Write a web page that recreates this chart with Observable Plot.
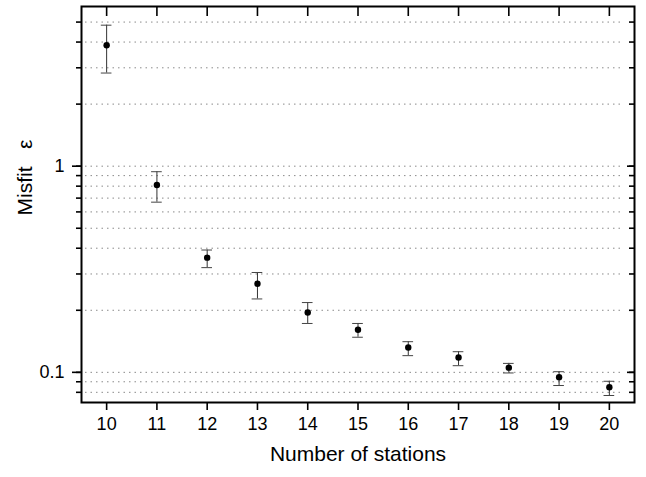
<!DOCTYPE html>
<html>
<head>
<meta charset="utf-8">
<script src="https://cdn.jsdelivr.net/npm/d3@7"></script>
<script src="https://cdn.jsdelivr.net/npm/@observablehq/plot@0.6"></script>
<style>
  html, body { margin: 0; padding: 0; background: #fff; }
  #chart svg { display: block; }
</style>
</head>
<body>
<div id="chart"></div>
<script>
const stations = [10, 11, 12, 13, 14, 15, 16, 17, 18, 19, 20];
const misfit   = [3.86, 0.81, 0.36, 0.269, 0.195, 0.161, 0.132, 0.118, 0.1054, 0.0946, 0.0846];
const errHigh  = [4.83, 0.94, 0.392, 0.305, 0.218, 0.1726, 0.1408, 0.1259, 0.1105, 0.1007, 0.0905];
const errLow   = [2.83, 0.669, 0.322, 0.227, 0.1726, 0.148, 0.1205, 0.1077, 0.0993, 0.0863, 0.0772];
const gridTicks = [0.08, 0.09, 0.1, 0.2, 0.3, 0.4, 0.5, 0.6, 0.7, 0.8, 0.9, 1, 2, 3, 4, 5];
const majorTicks = [0.1, 1];
const majorLabels = ["0.1", "1"];
const xLabel = "Number of stations";
const yLabel = "Misfit\u00a0\u00a0\u00a0ε";

const data = stations.map((n, i) => ({n, m: misfit[i], lo: errLow[i], hi: errHigh[i]}));
const capHalf = 0.106;

const chart = Plot.plot({
  width: 646,
  height: 477,
  marginLeft: 81,
  marginRight: 12,
  marginTop: 6,
  marginBottom: 75,
  style: {fontFamily: "'Liberation Sans', Arial, sans-serif", fontSize: "18px", color: "black", background: "white"},
  x: {domain: [9.5, 20.5]},
  y: {type: "log", domain: [0.0714, 5.95]},
  marks: [
    Plot.ruleY(gridTicks, {stroke: "#8a8a8a", strokeDasharray: "1.5,4", insetLeft: 4, insetRight: 10}),
    Plot.ruleX(data, {x: "n", y1: "lo", y2: "hi", stroke: "#333"}),
    Plot.ruleY(data, {y: "hi", x1: d => d.n - capHalf, x2: d => d.n + capHalf, stroke: "#444"}),
    Plot.ruleY(data, {y: "lo", x1: d => d.n - capHalf, x2: d => d.n + capHalf, stroke: "#444"}),
    Plot.dot(data, {x: "n", y: "m", r: 3.2, fill: "black", stroke: "none"}),
    Plot.frame({stroke: "black", strokeWidth: 2}),
    Plot.axisX({ticks: stations, tickSize: 8, tickPadding: 7, tickFormat: d => String(d), label: null, strokeWidth: 1.6, fontSize: 18}),
    Plot.axisX({anchor: "top", ticks: stations, tickSize: -9, tickFormat: () => "", label: null, strokeWidth: 1.6}),
    Plot.axisY({ticks: gridTicks, tickSize: 5, tickFormat: () => "", label: null, strokeWidth: 1.6}),
    Plot.axisY({ticks: majorTicks, tickSize: 9, tickPadding: 8, tickFormat: d => majorLabels[majorTicks.indexOf(d)], label: null, strokeWidth: 1.6, fontSize: 18}),
    Plot.axisY({anchor: "right", ticks: gridTicks, tickSize: -6, tickFormat: () => "", label: null, strokeWidth: 1.6}),
    Plot.axisY({anchor: "right", ticks: majorTicks, tickSize: -8, tickFormat: () => "", label: null, strokeWidth: 1.6}),
    Plot.text([xLabel], {frameAnchor: "bottom", dy: 58, fontSize: 21, fill: "black"}),
    Plot.text([yLabel], {frameAnchor: "left", rotate: -90, dx: -56, dy: 11, fontSize: 21, fill: "black"})
  ]
});
document.getElementById("chart").appendChild(chart);
</script>
</body>
</html>
